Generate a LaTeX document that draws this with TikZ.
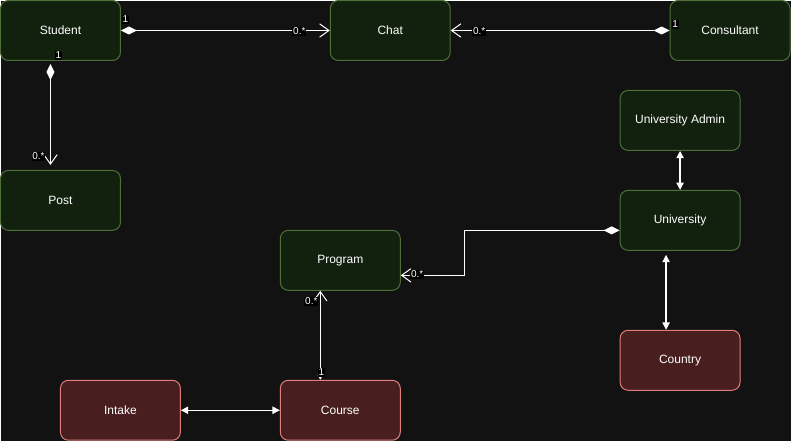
\documentclass[tikz,border=0pt]{standalone}
\usepackage{fontspec}
\setmainfont{Liberation Sans}
\usetikzlibrary{arrows.meta,calc}

\definecolor{bgdark}{RGB}{18,18,18}
\definecolor{greenfill}{RGB}{17,33,14}
\definecolor{greenline}{RGB}{78,112,56}
\definecolor{redfill}{RGB}{72,31,30}
\definecolor{redline}{RGB}{222,125,122}

\tikzset{every picture/.style={line width=0.75pt}}
\tikzset{
  entity/.style={draw=greenline,fill=greenfill,text=white,rounded corners=6pt,
    minimum width=90pt,minimum height=45pt,inner sep=0pt,font=\fontsize{9}{11}\selectfont},
  refentity/.style={entity,draw=redline,fill=redfill},
  mult/.style={fill=black,text=white,inner sep=0.6pt,font=\fontsize{7.5}{8}\selectfont},
  link/.style={draw=white,line width=0.9pt},
  owns/.style={link,{Diamond[length=12pt,width=6pt,fill=white]}-{Straight Barb[length=7pt,width=10pt,line width=0.75pt]}},
  both/.style={link,{Triangle[length=5.5pt,width=5.5pt]}-{Triangle[length=5.5pt,width=5.5pt]}}
}

\begin{document}
\begin{tikzpicture}[x=0.75pt,y=0.75pt,yscale=-1,xscale=1]
\path[fill=bgdark] (0,0) rectangle (791,441);

% Shapes
\node[entity] (student) at (60,30) {Student};
\node[entity] (chat) at (390,30) {Chat};
\node[entity] (consultant) at (730,30) {Consultant};
\node[entity] (post) at (60,200) {Post};
\node[entity] (uniadmin) at (680,120) {University Admin};
\node[entity] (university) at (680,220) {University};
\node[entity] (program) at (340,260) {Program};
\node[refentity] (country) at (680,360) {Country};
\node[refentity] (intake) at (120,410) {Intake};
\node[refentity] (course) at (340,410) {Course};

% Aggregations
\draw[owns] (student.east) -- (chat.west);
\draw[owns] (consultant.west) -- (chat.east);
\draw[owns] ($(student.south)+(-10,3)$) -- ($(post.north)+(-10,-5)$);
\draw[owns] ($(university.west)+(0,10)$) -- ++(-155,0) |- ($(program.east)+(0,15)$);
\draw[owns,{Diamond[length=7pt,width=4pt,fill=white]}-{Straight Barb[length=7pt,width=10pt,line width=0.75pt]}]
  ($(course.north)+(-20,0)$) -- ($(program.south)+(-20,0)$);

% Associations
\draw[both] (uniadmin.south) -- (university.north);
\draw[both] ($(university.south)+(-14,4)$) -- ($(country.north)+(-14,0)$);
\draw[both] (intake.east) -- (course.west);

% Multiplicities
\node[mult] (m1) at (125,19) {1};
\node[mult] (m2) at (299,31) {0.*};
\node[mult] (m3) at (479,31) {0.*};
\node[mult] (m4) at (675,24) {1};
\node[mult] (m5) at (58,55) {1};
\node[mult] (m6) at (38,156) {0.*};
\node[mult] (m7) at (417,274) {0.*};
\node[mult] (m8) at (311,301) {0.*};
\node[mult] (m9) at (321,372) {1};

\end{tikzpicture}
\end{document}
